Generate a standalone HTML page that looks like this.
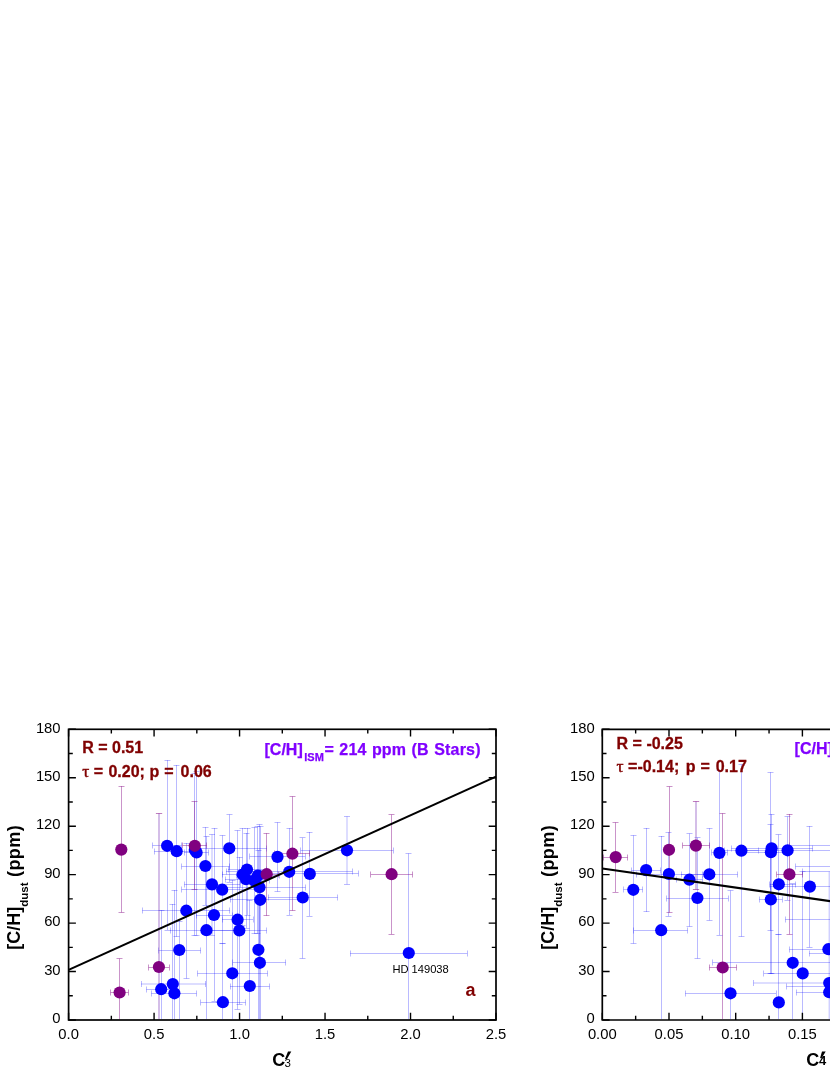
<!DOCTYPE html>
<html><head><meta charset="utf-8"><title>chart</title>
<style>
html,body{margin:0;padding:0;background:#fff;}
body{width:830px;height:1075px;overflow:hidden;font-family:"Liberation Sans",sans-serif;}
svg{display:block;position:absolute;left:0;top:0;opacity:0.999;will-change:transform;}
text{font-family:"Liberation Sans",sans-serif;}
.tk{font-size:14.8px;fill:#000;}
.b{font-weight:bold;}
.dr{fill:#800000;font-weight:bold;font-size:16px;stroke:#800000;stroke-width:0.3px;}
.vi{fill:#8000ff;font-weight:bold;font-size:16px;stroke:#8000ff;stroke-width:0.25px;}
.sy{font-family:"Liberation Serif",serif;font-weight:normal;font-size:17.5px;stroke-width:0.45px;}
</style></head><body>
<svg width="830" height="1075" viewBox="0 0 830 1075">
<rect x="0" y="0" width="830" height="1075" fill="#fff"/>

<g id="plot-a">
<path d="M152.6 845.5H181.6" stroke="#0000ff" stroke-opacity="0.27" stroke-width="1" fill="none"/>
<path d="M152.5 842.5V848.5" stroke="#0000ff" stroke-opacity="0.27" stroke-width="1" fill="none"/>
<path d="M181.5 842.5V848.5" stroke="#0000ff" stroke-opacity="0.27" stroke-width="1" fill="none"/>
<path d="M167.5 760.2V930.0" stroke="#0000ff" stroke-opacity="0.27" stroke-width="1" fill="none"/>
<path d="M164.5 760.5H170.5" stroke="#0000ff" stroke-opacity="0.27" stroke-width="1" fill="none"/>
<path d="M164.5 930.5H170.5" stroke="#0000ff" stroke-opacity="0.27" stroke-width="1" fill="none"/>
<path d="M154.3 851.5H199.0" stroke="#0000ff" stroke-opacity="0.27" stroke-width="1" fill="none"/>
<path d="M154.5 848.5V854.5" stroke="#0000ff" stroke-opacity="0.27" stroke-width="1" fill="none"/>
<path d="M199.5 848.5V854.5" stroke="#0000ff" stroke-opacity="0.27" stroke-width="1" fill="none"/>
<path d="M176.5 765.0V936.8" stroke="#0000ff" stroke-opacity="0.27" stroke-width="1" fill="none"/>
<path d="M173.5 765.5H179.5" stroke="#0000ff" stroke-opacity="0.27" stroke-width="1" fill="none"/>
<path d="M173.5 936.5H179.5" stroke="#0000ff" stroke-opacity="0.27" stroke-width="1" fill="none"/>
<path d="M184.0 852.5H208.5" stroke="#0000ff" stroke-opacity="0.27" stroke-width="1" fill="none"/>
<path d="M184.5 849.5V855.5" stroke="#0000ff" stroke-opacity="0.27" stroke-width="1" fill="none"/>
<path d="M208.5 849.5V855.5" stroke="#0000ff" stroke-opacity="0.27" stroke-width="1" fill="none"/>
<path d="M196.5 771.6V935.1" stroke="#0000ff" stroke-opacity="0.27" stroke-width="1" fill="none"/>
<path d="M193.5 771.5H199.5" stroke="#0000ff" stroke-opacity="0.27" stroke-width="1" fill="none"/>
<path d="M193.5 935.5H199.5" stroke="#0000ff" stroke-opacity="0.27" stroke-width="1" fill="none"/>
<path d="M194.5 773.0V935.1" stroke="#0000ff" stroke-opacity="0.27" stroke-width="1" fill="none"/>
<path d="M191.5 773.5H197.5" stroke="#0000ff" stroke-opacity="0.27" stroke-width="1" fill="none"/>
<path d="M191.5 935.5H197.5" stroke="#0000ff" stroke-opacity="0.27" stroke-width="1" fill="none"/>
<path d="M181.6 866.5H229.5" stroke="#0000ff" stroke-opacity="0.27" stroke-width="1" fill="none"/>
<path d="M181.5 863.5V869.5" stroke="#0000ff" stroke-opacity="0.27" stroke-width="1" fill="none"/>
<path d="M229.5 863.5V869.5" stroke="#0000ff" stroke-opacity="0.27" stroke-width="1" fill="none"/>
<path d="M205.5 827.2V905.0" stroke="#0000ff" stroke-opacity="0.27" stroke-width="1" fill="none"/>
<path d="M202.5 827.5H208.5" stroke="#0000ff" stroke-opacity="0.27" stroke-width="1" fill="none"/>
<path d="M202.5 905.5H208.5" stroke="#0000ff" stroke-opacity="0.27" stroke-width="1" fill="none"/>
<path d="M192.0 848.5H266.7" stroke="#0000ff" stroke-opacity="0.27" stroke-width="1" fill="none"/>
<path d="M192.5 845.5V851.5" stroke="#0000ff" stroke-opacity="0.27" stroke-width="1" fill="none"/>
<path d="M266.5 845.5V851.5" stroke="#0000ff" stroke-opacity="0.27" stroke-width="1" fill="none"/>
<path d="M229.5 814.6V882.0" stroke="#0000ff" stroke-opacity="0.27" stroke-width="1" fill="none"/>
<path d="M226.5 814.5H232.5" stroke="#0000ff" stroke-opacity="0.27" stroke-width="1" fill="none"/>
<path d="M226.5 882.5H232.5" stroke="#0000ff" stroke-opacity="0.27" stroke-width="1" fill="none"/>
<path d="M184.3 884.5H240.0" stroke="#0000ff" stroke-opacity="0.27" stroke-width="1" fill="none"/>
<path d="M184.5 881.5V887.5" stroke="#0000ff" stroke-opacity="0.27" stroke-width="1" fill="none"/>
<path d="M240.5 881.5V887.5" stroke="#0000ff" stroke-opacity="0.27" stroke-width="1" fill="none"/>
<path d="M212.0 834.4V935.0" stroke="#0000ff" stroke-opacity="0.27" stroke-width="1" fill="none"/>
<path d="M209.0 834.5H215.0" stroke="#0000ff" stroke-opacity="0.27" stroke-width="1" fill="none"/>
<path d="M209.0 935.5H215.0" stroke="#0000ff" stroke-opacity="0.27" stroke-width="1" fill="none"/>
<path d="M181.6 889.5H262.0" stroke="#0000ff" stroke-opacity="0.27" stroke-width="1" fill="none"/>
<path d="M181.5 886.5V892.5" stroke="#0000ff" stroke-opacity="0.27" stroke-width="1" fill="none"/>
<path d="M262.5 886.5V892.5" stroke="#0000ff" stroke-opacity="0.27" stroke-width="1" fill="none"/>
<path d="M222.5 835.4V943.2" stroke="#0000ff" stroke-opacity="0.27" stroke-width="1" fill="none"/>
<path d="M219.5 835.5H225.5" stroke="#0000ff" stroke-opacity="0.27" stroke-width="1" fill="none"/>
<path d="M219.5 943.5H225.5" stroke="#0000ff" stroke-opacity="0.27" stroke-width="1" fill="none"/>
<path d="M142.3 910.5H229.8" stroke="#0000ff" stroke-opacity="0.27" stroke-width="1" fill="none"/>
<path d="M142.5 907.5V913.5" stroke="#0000ff" stroke-opacity="0.27" stroke-width="1" fill="none"/>
<path d="M229.5 907.5V913.5" stroke="#0000ff" stroke-opacity="0.27" stroke-width="1" fill="none"/>
<path d="M186.5 843.0V978.5" stroke="#0000ff" stroke-opacity="0.27" stroke-width="1" fill="none"/>
<path d="M183.5 843.5H189.5" stroke="#0000ff" stroke-opacity="0.27" stroke-width="1" fill="none"/>
<path d="M183.5 978.5H189.5" stroke="#0000ff" stroke-opacity="0.27" stroke-width="1" fill="none"/>
<path d="M196.0 915.5H232.0" stroke="#0000ff" stroke-opacity="0.27" stroke-width="1" fill="none"/>
<path d="M196.5 912.5V918.5" stroke="#0000ff" stroke-opacity="0.27" stroke-width="1" fill="none"/>
<path d="M232.5 912.5V918.5" stroke="#0000ff" stroke-opacity="0.27" stroke-width="1" fill="none"/>
<path d="M214.5 828.1V1001.0" stroke="#0000ff" stroke-opacity="0.27" stroke-width="1" fill="none"/>
<path d="M211.5 828.5H217.5" stroke="#0000ff" stroke-opacity="0.27" stroke-width="1" fill="none"/>
<path d="M211.5 1001.5H217.5" stroke="#0000ff" stroke-opacity="0.27" stroke-width="1" fill="none"/>
<path d="M170.0 930.5H242.8" stroke="#0000ff" stroke-opacity="0.27" stroke-width="1" fill="none"/>
<path d="M170.5 927.5V933.5" stroke="#0000ff" stroke-opacity="0.27" stroke-width="1" fill="none"/>
<path d="M242.5 927.5V933.5" stroke="#0000ff" stroke-opacity="0.27" stroke-width="1" fill="none"/>
<path d="M206.5 836.4V1019.0" stroke="#0000ff" stroke-opacity="0.27" stroke-width="1" fill="none"/>
<path d="M203.5 836.5H209.5" stroke="#0000ff" stroke-opacity="0.27" stroke-width="1" fill="none"/>
<path d="M222.0 919.5H253.0" stroke="#0000ff" stroke-opacity="0.27" stroke-width="1" fill="none"/>
<path d="M222.5 916.5V922.5" stroke="#0000ff" stroke-opacity="0.27" stroke-width="1" fill="none"/>
<path d="M253.5 916.5V922.5" stroke="#0000ff" stroke-opacity="0.27" stroke-width="1" fill="none"/>
<path d="M237.5 830.4V1009.3" stroke="#0000ff" stroke-opacity="0.27" stroke-width="1" fill="none"/>
<path d="M234.5 830.5H240.5" stroke="#0000ff" stroke-opacity="0.27" stroke-width="1" fill="none"/>
<path d="M234.5 1009.5H240.5" stroke="#0000ff" stroke-opacity="0.27" stroke-width="1" fill="none"/>
<path d="M212.0 930.5H266.7" stroke="#0000ff" stroke-opacity="0.27" stroke-width="1" fill="none"/>
<path d="M212.0 927.5V933.5" stroke="#0000ff" stroke-opacity="0.27" stroke-width="1" fill="none"/>
<path d="M266.5 927.5V933.5" stroke="#0000ff" stroke-opacity="0.27" stroke-width="1" fill="none"/>
<path d="M239.5 857.0V1004.3" stroke="#0000ff" stroke-opacity="0.27" stroke-width="1" fill="none"/>
<path d="M236.5 857.5H242.5" stroke="#0000ff" stroke-opacity="0.27" stroke-width="1" fill="none"/>
<path d="M236.5 1004.5H242.5" stroke="#0000ff" stroke-opacity="0.27" stroke-width="1" fill="none"/>
<path d="M158.5 950.5H200.7" stroke="#0000ff" stroke-opacity="0.27" stroke-width="1" fill="none"/>
<path d="M158.5 947.5V953.5" stroke="#0000ff" stroke-opacity="0.27" stroke-width="1" fill="none"/>
<path d="M200.5 947.5V953.5" stroke="#0000ff" stroke-opacity="0.27" stroke-width="1" fill="none"/>
<path d="M179.5 921.0V1019.0" stroke="#0000ff" stroke-opacity="0.27" stroke-width="1" fill="none"/>
<path d="M176.5 921.5H182.5" stroke="#0000ff" stroke-opacity="0.27" stroke-width="1" fill="none"/>
<path d="M141.0 984.0H205.9" stroke="#0000ff" stroke-opacity="0.27" stroke-width="1" fill="none"/>
<path d="M141.5 981.0V987.0" stroke="#0000ff" stroke-opacity="0.27" stroke-width="1" fill="none"/>
<path d="M205.5 981.0V987.0" stroke="#0000ff" stroke-opacity="0.27" stroke-width="1" fill="none"/>
<path d="M172.5 904.0V1019.0" stroke="#0000ff" stroke-opacity="0.27" stroke-width="1" fill="none"/>
<path d="M169.5 904.5H175.5" stroke="#0000ff" stroke-opacity="0.27" stroke-width="1" fill="none"/>
<path d="M146.4 989.5H176.0" stroke="#0000ff" stroke-opacity="0.27" stroke-width="1" fill="none"/>
<path d="M146.5 986.5V992.5" stroke="#0000ff" stroke-opacity="0.27" stroke-width="1" fill="none"/>
<path d="M176.5 986.5V992.5" stroke="#0000ff" stroke-opacity="0.27" stroke-width="1" fill="none"/>
<path d="M161.5 910.2V1019.0" stroke="#0000ff" stroke-opacity="0.27" stroke-width="1" fill="none"/>
<path d="M158.5 910.5H164.5" stroke="#0000ff" stroke-opacity="0.27" stroke-width="1" fill="none"/>
<path d="M151.4 993.5H196.5" stroke="#0000ff" stroke-opacity="0.27" stroke-width="1" fill="none"/>
<path d="M151.5 990.5V996.5" stroke="#0000ff" stroke-opacity="0.27" stroke-width="1" fill="none"/>
<path d="M196.5 990.5V996.5" stroke="#0000ff" stroke-opacity="0.27" stroke-width="1" fill="none"/>
<path d="M174.5 890.0V1019.0" stroke="#0000ff" stroke-opacity="0.27" stroke-width="1" fill="none"/>
<path d="M171.5 890.5H177.5" stroke="#0000ff" stroke-opacity="0.27" stroke-width="1" fill="none"/>
<path d="M197.5 973.5H267.5" stroke="#0000ff" stroke-opacity="0.27" stroke-width="1" fill="none"/>
<path d="M197.5 970.5V976.5" stroke="#0000ff" stroke-opacity="0.27" stroke-width="1" fill="none"/>
<path d="M267.5 970.5V976.5" stroke="#0000ff" stroke-opacity="0.27" stroke-width="1" fill="none"/>
<path d="M232.5 880.0V1019.0" stroke="#0000ff" stroke-opacity="0.27" stroke-width="1" fill="none"/>
<path d="M229.5 880.5H235.5" stroke="#0000ff" stroke-opacity="0.27" stroke-width="1" fill="none"/>
<path d="M230.1 986.5H269.5" stroke="#0000ff" stroke-opacity="0.27" stroke-width="1" fill="none"/>
<path d="M230.5 983.5V989.5" stroke="#0000ff" stroke-opacity="0.27" stroke-width="1" fill="none"/>
<path d="M269.5 983.5V989.5" stroke="#0000ff" stroke-opacity="0.27" stroke-width="1" fill="none"/>
<path d="M249.5 900.0V1019.0" stroke="#0000ff" stroke-opacity="0.27" stroke-width="1" fill="none"/>
<path d="M246.5 900.5H252.5" stroke="#0000ff" stroke-opacity="0.27" stroke-width="1" fill="none"/>
<path d="M200.7 1002.5H245.6" stroke="#0000ff" stroke-opacity="0.27" stroke-width="1" fill="none"/>
<path d="M200.5 999.5V1005.5" stroke="#0000ff" stroke-opacity="0.27" stroke-width="1" fill="none"/>
<path d="M245.5 999.5V1005.5" stroke="#0000ff" stroke-opacity="0.27" stroke-width="1" fill="none"/>
<path d="M222.5 943.2V1019.0" stroke="#0000ff" stroke-opacity="0.27" stroke-width="1" fill="none"/>
<path d="M219.5 943.5H225.5" stroke="#0000ff" stroke-opacity="0.27" stroke-width="1" fill="none"/>
<path d="M258.5 850.0V1019.0" stroke="#0000ff" stroke-opacity="0.27" stroke-width="1" fill="none"/>
<path d="M255.5 850.5H261.5" stroke="#0000ff" stroke-opacity="0.27" stroke-width="1" fill="none"/>
<path d="M232.9 962.5H285.7" stroke="#0000ff" stroke-opacity="0.27" stroke-width="1" fill="none"/>
<path d="M232.5 959.5V965.5" stroke="#0000ff" stroke-opacity="0.27" stroke-width="1" fill="none"/>
<path d="M285.5 959.5V965.5" stroke="#0000ff" stroke-opacity="0.27" stroke-width="1" fill="none"/>
<path d="M259.5 870.0V1019.0" stroke="#0000ff" stroke-opacity="0.27" stroke-width="1" fill="none"/>
<path d="M256.5 870.5H262.5" stroke="#0000ff" stroke-opacity="0.27" stroke-width="1" fill="none"/>
<path d="M230.0 899.5H305.0" stroke="#0000ff" stroke-opacity="0.27" stroke-width="1" fill="none"/>
<path d="M230.5 896.5V902.5" stroke="#0000ff" stroke-opacity="0.27" stroke-width="1" fill="none"/>
<path d="M305.5 896.5V902.5" stroke="#0000ff" stroke-opacity="0.27" stroke-width="1" fill="none"/>
<path d="M260.5 826.6V1019.0" stroke="#0000ff" stroke-opacity="0.27" stroke-width="1" fill="none"/>
<path d="M257.5 826.5H263.5" stroke="#0000ff" stroke-opacity="0.27" stroke-width="1" fill="none"/>
<path d="M214.0 887.5H305.6" stroke="#0000ff" stroke-opacity="0.27" stroke-width="1" fill="none"/>
<path d="M214.5 884.5V890.5" stroke="#0000ff" stroke-opacity="0.27" stroke-width="1" fill="none"/>
<path d="M305.5 884.5V890.5" stroke="#0000ff" stroke-opacity="0.27" stroke-width="1" fill="none"/>
<path d="M259.5 824.4V960.0" stroke="#0000ff" stroke-opacity="0.27" stroke-width="1" fill="none"/>
<path d="M256.5 824.5H262.5" stroke="#0000ff" stroke-opacity="0.27" stroke-width="1" fill="none"/>
<path d="M256.5 960.5H262.5" stroke="#0000ff" stroke-opacity="0.27" stroke-width="1" fill="none"/>
<path d="M236.0 875.5H279.0" stroke="#0000ff" stroke-opacity="0.27" stroke-width="1" fill="none"/>
<path d="M236.5 872.5V878.5" stroke="#0000ff" stroke-opacity="0.27" stroke-width="1" fill="none"/>
<path d="M279.5 872.5V878.5" stroke="#0000ff" stroke-opacity="0.27" stroke-width="1" fill="none"/>
<path d="M257.5 826.6V933.8" stroke="#0000ff" stroke-opacity="0.27" stroke-width="1" fill="none"/>
<path d="M254.5 826.5H260.5" stroke="#0000ff" stroke-opacity="0.27" stroke-width="1" fill="none"/>
<path d="M254.5 933.5H260.5" stroke="#0000ff" stroke-opacity="0.27" stroke-width="1" fill="none"/>
<path d="M240.0 880.5H269.0" stroke="#0000ff" stroke-opacity="0.27" stroke-width="1" fill="none"/>
<path d="M240.5 877.5V883.5" stroke="#0000ff" stroke-opacity="0.27" stroke-width="1" fill="none"/>
<path d="M269.5 877.5V883.5" stroke="#0000ff" stroke-opacity="0.27" stroke-width="1" fill="none"/>
<path d="M254.5 827.2V933.8" stroke="#0000ff" stroke-opacity="0.27" stroke-width="1" fill="none"/>
<path d="M251.5 827.5H257.5" stroke="#0000ff" stroke-opacity="0.27" stroke-width="1" fill="none"/>
<path d="M251.5 933.5H257.5" stroke="#0000ff" stroke-opacity="0.27" stroke-width="1" fill="none"/>
<path d="M222.0 874.5H258.0" stroke="#0000ff" stroke-opacity="0.27" stroke-width="1" fill="none"/>
<path d="M222.5 871.5V877.5" stroke="#0000ff" stroke-opacity="0.27" stroke-width="1" fill="none"/>
<path d="M258.5 871.5V877.5" stroke="#0000ff" stroke-opacity="0.27" stroke-width="1" fill="none"/>
<path d="M242.5 828.0V925.0" stroke="#0000ff" stroke-opacity="0.27" stroke-width="1" fill="none"/>
<path d="M239.5 828.5H245.5" stroke="#0000ff" stroke-opacity="0.27" stroke-width="1" fill="none"/>
<path d="M239.5 925.5H245.5" stroke="#0000ff" stroke-opacity="0.27" stroke-width="1" fill="none"/>
<path d="M228.0 869.5H266.0" stroke="#0000ff" stroke-opacity="0.27" stroke-width="1" fill="none"/>
<path d="M228.5 866.5V872.5" stroke="#0000ff" stroke-opacity="0.27" stroke-width="1" fill="none"/>
<path d="M266.5 866.5V872.5" stroke="#0000ff" stroke-opacity="0.27" stroke-width="1" fill="none"/>
<path d="M247.5 828.0V915.0" stroke="#0000ff" stroke-opacity="0.27" stroke-width="1" fill="none"/>
<path d="M244.5 828.5H250.5" stroke="#0000ff" stroke-opacity="0.27" stroke-width="1" fill="none"/>
<path d="M244.5 915.5H250.5" stroke="#0000ff" stroke-opacity="0.27" stroke-width="1" fill="none"/>
<path d="M225.0 879.5H266.0" stroke="#0000ff" stroke-opacity="0.27" stroke-width="1" fill="none"/>
<path d="M225.5 876.5V882.5" stroke="#0000ff" stroke-opacity="0.27" stroke-width="1" fill="none"/>
<path d="M266.5 876.5V882.5" stroke="#0000ff" stroke-opacity="0.27" stroke-width="1" fill="none"/>
<path d="M246.5 833.0V928.0" stroke="#0000ff" stroke-opacity="0.27" stroke-width="1" fill="none"/>
<path d="M243.5 833.5H249.5" stroke="#0000ff" stroke-opacity="0.27" stroke-width="1" fill="none"/>
<path d="M243.5 928.5H249.5" stroke="#0000ff" stroke-opacity="0.27" stroke-width="1" fill="none"/>
<path d="M249.7 856.5H305.2" stroke="#0000ff" stroke-opacity="0.27" stroke-width="1" fill="none"/>
<path d="M249.5 853.5V859.5" stroke="#0000ff" stroke-opacity="0.27" stroke-width="1" fill="none"/>
<path d="M305.5 853.5V859.5" stroke="#0000ff" stroke-opacity="0.27" stroke-width="1" fill="none"/>
<path d="M277.5 822.4V891.6" stroke="#0000ff" stroke-opacity="0.27" stroke-width="1" fill="none"/>
<path d="M274.5 822.5H280.5" stroke="#0000ff" stroke-opacity="0.27" stroke-width="1" fill="none"/>
<path d="M274.5 891.5H280.5" stroke="#0000ff" stroke-opacity="0.27" stroke-width="1" fill="none"/>
<path d="M226.0 871.5H352.5" stroke="#0000ff" stroke-opacity="0.27" stroke-width="1" fill="none"/>
<path d="M226.5 868.5V874.5" stroke="#0000ff" stroke-opacity="0.27" stroke-width="1" fill="none"/>
<path d="M352.5 868.5V874.5" stroke="#0000ff" stroke-opacity="0.27" stroke-width="1" fill="none"/>
<path d="M289.5 828.2V915.0" stroke="#0000ff" stroke-opacity="0.27" stroke-width="1" fill="none"/>
<path d="M286.5 828.5H292.5" stroke="#0000ff" stroke-opacity="0.27" stroke-width="1" fill="none"/>
<path d="M286.5 915.5H292.5" stroke="#0000ff" stroke-opacity="0.27" stroke-width="1" fill="none"/>
<path d="M261.0 873.5H358.4" stroke="#0000ff" stroke-opacity="0.27" stroke-width="1" fill="none"/>
<path d="M261.5 870.5V876.5" stroke="#0000ff" stroke-opacity="0.27" stroke-width="1" fill="none"/>
<path d="M358.5 870.5V876.5" stroke="#0000ff" stroke-opacity="0.27" stroke-width="1" fill="none"/>
<path d="M309.5 832.0V916.0" stroke="#0000ff" stroke-opacity="0.27" stroke-width="1" fill="none"/>
<path d="M306.5 832.5H312.5" stroke="#0000ff" stroke-opacity="0.27" stroke-width="1" fill="none"/>
<path d="M306.5 916.5H312.5" stroke="#0000ff" stroke-opacity="0.27" stroke-width="1" fill="none"/>
<path d="M268.0 897.5H337.6" stroke="#0000ff" stroke-opacity="0.27" stroke-width="1" fill="none"/>
<path d="M268.5 894.5V900.5" stroke="#0000ff" stroke-opacity="0.27" stroke-width="1" fill="none"/>
<path d="M337.5 894.5V900.5" stroke="#0000ff" stroke-opacity="0.27" stroke-width="1" fill="none"/>
<path d="M302.5 837.8V958.4" stroke="#0000ff" stroke-opacity="0.27" stroke-width="1" fill="none"/>
<path d="M299.5 837.5H305.5" stroke="#0000ff" stroke-opacity="0.27" stroke-width="1" fill="none"/>
<path d="M299.5 958.5H305.5" stroke="#0000ff" stroke-opacity="0.27" stroke-width="1" fill="none"/>
<path d="M300.7 850.5H393.3" stroke="#0000ff" stroke-opacity="0.27" stroke-width="1" fill="none"/>
<path d="M300.5 847.5V853.5" stroke="#0000ff" stroke-opacity="0.27" stroke-width="1" fill="none"/>
<path d="M393.5 847.5V853.5" stroke="#0000ff" stroke-opacity="0.27" stroke-width="1" fill="none"/>
<path d="M347.0 816.5V884.3" stroke="#0000ff" stroke-opacity="0.27" stroke-width="1" fill="none"/>
<path d="M344.0 816.5H350.0" stroke="#0000ff" stroke-opacity="0.27" stroke-width="1" fill="none"/>
<path d="M344.0 884.5H350.0" stroke="#0000ff" stroke-opacity="0.27" stroke-width="1" fill="none"/>
<path d="M350.2 953.5H467.2" stroke="#0000ff" stroke-opacity="0.27" stroke-width="1" fill="none"/>
<path d="M350.5 950.5V956.5" stroke="#0000ff" stroke-opacity="0.27" stroke-width="1" fill="none"/>
<path d="M467.5 950.5V956.5" stroke="#0000ff" stroke-opacity="0.27" stroke-width="1" fill="none"/>
<path d="M408.5 853.5V1019.0" stroke="#0000ff" stroke-opacity="0.27" stroke-width="1" fill="none"/>
<path d="M405.5 853.5H411.5" stroke="#0000ff" stroke-opacity="0.27" stroke-width="1" fill="none"/>
<path d="M121.5 786.2V912.4" stroke="#800080" stroke-opacity="0.42" stroke-width="1" fill="none"/>
<path d="M118.5 786.5H124.5" stroke="#800080" stroke-opacity="0.42" stroke-width="1" fill="none"/>
<path d="M118.5 912.5H124.5" stroke="#800080" stroke-opacity="0.42" stroke-width="1" fill="none"/>
<path d="M182.6 845.5H206.6" stroke="#800080" stroke-opacity="0.42" stroke-width="1" fill="none"/>
<path d="M182.5 842.5V848.5" stroke="#800080" stroke-opacity="0.42" stroke-width="1" fill="none"/>
<path d="M206.5 842.5V848.5" stroke="#800080" stroke-opacity="0.42" stroke-width="1" fill="none"/>
<path d="M194.5 801.4V889.5" stroke="#800080" stroke-opacity="0.42" stroke-width="1" fill="none"/>
<path d="M191.5 801.5H197.5" stroke="#800080" stroke-opacity="0.42" stroke-width="1" fill="none"/>
<path d="M191.5 889.5H197.5" stroke="#800080" stroke-opacity="0.42" stroke-width="1" fill="none"/>
<path d="M254.6 874.5H278.6" stroke="#800080" stroke-opacity="0.42" stroke-width="1" fill="none"/>
<path d="M254.5 871.5V877.5" stroke="#800080" stroke-opacity="0.42" stroke-width="1" fill="none"/>
<path d="M278.5 871.5V877.5" stroke="#800080" stroke-opacity="0.42" stroke-width="1" fill="none"/>
<path d="M266.5 833.3V915.7" stroke="#800080" stroke-opacity="0.42" stroke-width="1" fill="none"/>
<path d="M263.5 833.5H269.5" stroke="#800080" stroke-opacity="0.42" stroke-width="1" fill="none"/>
<path d="M263.5 915.5H269.5" stroke="#800080" stroke-opacity="0.42" stroke-width="1" fill="none"/>
<path d="M274.8 853.5H309.8" stroke="#800080" stroke-opacity="0.42" stroke-width="1" fill="none"/>
<path d="M274.5 850.5V856.5" stroke="#800080" stroke-opacity="0.42" stroke-width="1" fill="none"/>
<path d="M309.5 850.5V856.5" stroke="#800080" stroke-opacity="0.42" stroke-width="1" fill="none"/>
<path d="M292.5 796.5V910.6" stroke="#800080" stroke-opacity="0.42" stroke-width="1" fill="none"/>
<path d="M289.5 796.5H295.5" stroke="#800080" stroke-opacity="0.42" stroke-width="1" fill="none"/>
<path d="M289.5 910.5H295.5" stroke="#800080" stroke-opacity="0.42" stroke-width="1" fill="none"/>
<path d="M370.9 874.5H412.4" stroke="#800080" stroke-opacity="0.42" stroke-width="1" fill="none"/>
<path d="M370.5 871.5V877.5" stroke="#800080" stroke-opacity="0.42" stroke-width="1" fill="none"/>
<path d="M412.5 871.5V877.5" stroke="#800080" stroke-opacity="0.42" stroke-width="1" fill="none"/>
<path d="M391.5 814.7V934.2" stroke="#800080" stroke-opacity="0.42" stroke-width="1" fill="none"/>
<path d="M388.5 814.5H394.5" stroke="#800080" stroke-opacity="0.42" stroke-width="1" fill="none"/>
<path d="M388.5 934.5H394.5" stroke="#800080" stroke-opacity="0.42" stroke-width="1" fill="none"/>
<path d="M148.6 967.5H169.1" stroke="#800080" stroke-opacity="0.42" stroke-width="1" fill="none"/>
<path d="M148.5 964.5V970.5" stroke="#800080" stroke-opacity="0.42" stroke-width="1" fill="none"/>
<path d="M169.5 964.5V970.5" stroke="#800080" stroke-opacity="0.42" stroke-width="1" fill="none"/>
<path d="M110.6 992.5H128.3" stroke="#800080" stroke-opacity="0.42" stroke-width="1" fill="none"/>
<path d="M110.5 989.5V995.5" stroke="#800080" stroke-opacity="0.42" stroke-width="1" fill="none"/>
<path d="M128.5 989.5V995.5" stroke="#800080" stroke-opacity="0.42" stroke-width="1" fill="none"/>
<path d="M119.5 958.7V1019.0" stroke="#800080" stroke-opacity="0.42" stroke-width="1" fill="none"/>
<path d="M116.5 958.5H122.5" stroke="#800080" stroke-opacity="0.42" stroke-width="1" fill="none"/>
<path d="M159 813.5V1019" stroke="#8445bd" stroke-opacity="0.35" stroke-width="2" fill="none"/>
<path d="M155.9 813.5H162.2" stroke="#800080" stroke-opacity="0.5" stroke-width="1" fill="none"/>
<circle cx="167.1" cy="845.8" r="6.1" fill="#0000ff"/>
<circle cx="176.7" cy="851.2" r="6.1" fill="#0000ff"/>
<circle cx="196.6" cy="852.5" r="6.1" fill="#0000ff"/>
<circle cx="194.8" cy="850.0" r="6.1" fill="#0000ff"/>
<circle cx="205.4" cy="866.0" r="6.1" fill="#0000ff"/>
<circle cx="229.3" cy="848.3" r="6.1" fill="#0000ff"/>
<circle cx="212.0" cy="884.4" r="6.1" fill="#0000ff"/>
<circle cx="222.2" cy="889.7" r="6.1" fill="#0000ff"/>
<circle cx="186.3" cy="910.7" r="6.1" fill="#0000ff"/>
<circle cx="214.0" cy="915.0" r="6.1" fill="#0000ff"/>
<circle cx="206.4" cy="930.2" r="6.1" fill="#0000ff"/>
<circle cx="237.6" cy="919.7" r="6.1" fill="#0000ff"/>
<circle cx="239.3" cy="930.5" r="6.1" fill="#0000ff"/>
<circle cx="179.3" cy="950.0" r="6.1" fill="#0000ff"/>
<circle cx="172.8" cy="984.0" r="6.1" fill="#0000ff"/>
<circle cx="161.2" cy="989.2" r="6.1" fill="#0000ff"/>
<circle cx="174.4" cy="993.3" r="6.1" fill="#0000ff"/>
<circle cx="232.3" cy="973.3" r="6.1" fill="#0000ff"/>
<circle cx="249.8" cy="986.0" r="6.1" fill="#0000ff"/>
<circle cx="222.9" cy="1002.2" r="6.1" fill="#0000ff"/>
<circle cx="258.4" cy="949.8" r="6.1" fill="#0000ff"/>
<circle cx="259.9" cy="962.8" r="6.1" fill="#0000ff"/>
<circle cx="260.2" cy="899.8" r="6.1" fill="#0000ff"/>
<circle cx="259.5" cy="887.2" r="6.1" fill="#0000ff"/>
<circle cx="257.9" cy="875.6" r="6.1" fill="#0000ff"/>
<circle cx="254.1" cy="880.6" r="6.1" fill="#0000ff"/>
<circle cx="242.7" cy="874.5" r="6.1" fill="#0000ff"/>
<circle cx="247.0" cy="869.5" r="6.1" fill="#0000ff"/>
<circle cx="246.0" cy="879.2" r="6.1" fill="#0000ff"/>
<circle cx="277.5" cy="856.9" r="6.1" fill="#0000ff"/>
<circle cx="289.2" cy="871.8" r="6.1" fill="#0000ff"/>
<circle cx="309.8" cy="873.9" r="6.1" fill="#0000ff"/>
<circle cx="302.7" cy="897.5" r="6.1" fill="#0000ff"/>
<circle cx="347.0" cy="850.3" r="6.1" fill="#0000ff"/>
<circle cx="408.8" cy="953.0" r="6.1" fill="#0000ff"/>
<circle cx="121.3" cy="849.6" r="6.1" fill="#800080"/>
<circle cx="194.8" cy="845.8" r="6.1" fill="#800080"/>
<circle cx="266.7" cy="874.2" r="6.1" fill="#800080"/>
<circle cx="292.4" cy="853.7" r="6.1" fill="#800080"/>
<circle cx="391.6" cy="874.2" r="6.1" fill="#800080"/>
<circle cx="158.9" cy="967.0" r="6.1" fill="#800080"/>
<circle cx="119.6" cy="992.5" r="6.1" fill="#800080"/>
<path d="M68.6 969.9L496.0 776.6" stroke="#000" stroke-width="2.1" fill="none"/>
<path d="M68.6 1020.00h7.3M496.0 1020.00h-7.3M68.6 971.55h7.3M496.0 971.55h-7.3M68.6 923.10h7.3M496.0 923.10h-7.3M68.6 874.65h7.3M496.0 874.65h-7.3M68.6 826.20h7.3M496.0 826.20h-7.3M68.6 777.75h7.3M496.0 777.75h-7.3M68.6 729.30h7.3M496.0 729.30h-7.3M68.6 995.77h4.2M496.0 995.77h-4.2M68.6 947.33h4.2M496.0 947.33h-4.2M68.6 898.88h4.2M496.0 898.88h-4.2M68.6 850.42h4.2M496.0 850.42h-4.2M68.6 801.97h4.2M496.0 801.97h-4.2M68.6 753.52h4.2M496.0 753.52h-4.2M68.60 1020.0v-7.3M68.60 729.3v7.3M154.08 1020.0v-7.3M154.08 729.3v7.3M239.56 1020.0v-7.3M239.56 729.3v7.3M325.04 1020.0v-7.3M325.04 729.3v7.3M410.52 1020.0v-7.3M410.52 729.3v7.3M496.00 1020.0v-7.3M496.00 729.3v7.3M111.34 1020.0v-4.2M111.34 729.3v4.2M196.82 1020.0v-4.2M196.82 729.3v4.2M282.30 1020.0v-4.2M282.30 729.3v4.2M367.78 1020.0v-4.2M367.78 729.3v4.2M453.26 1020.0v-4.2M453.26 729.3v4.2" stroke="#000" stroke-width="1.4" fill="none"/>
<rect x="68.6" y="729.3" width="427.4" height="290.70000000000005" fill="none" stroke="#000" stroke-width="1.7"/>
<text class="tk" x="60.6" y="1023.2" text-anchor="end">0</text>
<text class="tk" x="60.6" y="974.8" text-anchor="end">30</text>
<text class="tk" x="60.6" y="926.3" text-anchor="end">60</text>
<text class="tk" x="60.6" y="877.9" text-anchor="end">90</text>
<text class="tk" x="60.6" y="829.4" text-anchor="end">120</text>
<text class="tk" x="60.6" y="781.0" text-anchor="end">150</text>
<text class="tk" x="60.6" y="732.5" text-anchor="end">180</text>
<text class="tk" x="68.6" y="1039.2" text-anchor="middle">0.0</text>
<text class="tk" x="154.1" y="1039.2" text-anchor="middle">0.5</text>
<text class="tk" x="239.6" y="1039.2" text-anchor="middle">1.0</text>
<text class="tk" x="325.0" y="1039.2" text-anchor="middle">1.5</text>
<text class="tk" x="410.5" y="1039.2" text-anchor="middle">2.0</text>
<text class="tk" x="496.0" y="1039.2" text-anchor="middle">2.5</text>
<text class="dr" x="82.2" y="753.3">R = 0.51</text>
<text class="dr" x="82.2" y="777.0"><tspan class="sy">τ</tspan> = <tspan dx="1">0.20; p </tspan><tspan dx="0.6">= </tspan><tspan dx="2.6">0.06</tspan></text>
<text class="vi" x="264.5" y="755.0">[C/H]<tspan font-size="11" dy="6.3" dx="1.6">ISM</tspan><tspan dy="-6.3" dx="0.6" letter-spacing="0.2" word-spacing="0.65">= 214 ppm (B Stars)</tspan></text>
<text x="392.4" y="972.7" font-size="11.15" fill="#000">HD 149038</text>
<text x="465.4" y="996.2" font-size="18" font-weight="bold" fill="#800000">a</text>
<text transform="translate(20,949.8) rotate(-90)" font-size="18" font-weight="bold" fill="#000">[C/H]<tspan font-size="11.5" dy="8">dust</tspan><tspan dy="-8" letter-spacing="0.45"> (ppm)</tspan></text>
<text x="272.2" y="1066.3" font-size="18" font-weight="bold" fill="#000">C</text>
<text x="284.5" y="1066.5" font-size="11.5" fill="#000">3</text>
<path d="M288.0 1051.4L291.3 1051.4L286.7 1059.5L285.0 1058.9Z" fill="#000"/>
</g>
<g id="plot-b">
<path d="M623.5 889.5H642.6" stroke="#0000ff" stroke-opacity="0.27" stroke-width="1" fill="none"/>
<path d="M623.5 886.5V892.5" stroke="#0000ff" stroke-opacity="0.27" stroke-width="1" fill="none"/>
<path d="M642.5 886.5V892.5" stroke="#0000ff" stroke-opacity="0.27" stroke-width="1" fill="none"/>
<path d="M633.5 835.4V943.5" stroke="#0000ff" stroke-opacity="0.27" stroke-width="1" fill="none"/>
<path d="M630.5 835.5H636.5" stroke="#0000ff" stroke-opacity="0.27" stroke-width="1" fill="none"/>
<path d="M630.5 943.5H636.5" stroke="#0000ff" stroke-opacity="0.27" stroke-width="1" fill="none"/>
<path d="M631.6 870.5H660.8" stroke="#0000ff" stroke-opacity="0.27" stroke-width="1" fill="none"/>
<path d="M631.5 867.5V873.5" stroke="#0000ff" stroke-opacity="0.27" stroke-width="1" fill="none"/>
<path d="M660.5 867.5V873.5" stroke="#0000ff" stroke-opacity="0.27" stroke-width="1" fill="none"/>
<path d="M646.5 828.0V911.9" stroke="#0000ff" stroke-opacity="0.27" stroke-width="1" fill="none"/>
<path d="M643.5 828.5H649.5" stroke="#0000ff" stroke-opacity="0.27" stroke-width="1" fill="none"/>
<path d="M643.5 911.5H649.5" stroke="#0000ff" stroke-opacity="0.27" stroke-width="1" fill="none"/>
<path d="M636.3 874.5H702.5" stroke="#0000ff" stroke-opacity="0.27" stroke-width="1" fill="none"/>
<path d="M636.5 871.5V877.5" stroke="#0000ff" stroke-opacity="0.27" stroke-width="1" fill="none"/>
<path d="M702.5 871.5V877.5" stroke="#0000ff" stroke-opacity="0.27" stroke-width="1" fill="none"/>
<path d="M668.5 832.2V916.2" stroke="#0000ff" stroke-opacity="0.27" stroke-width="1" fill="none"/>
<path d="M665.5 832.5H671.5" stroke="#0000ff" stroke-opacity="0.27" stroke-width="1" fill="none"/>
<path d="M665.5 916.5H671.5" stroke="#0000ff" stroke-opacity="0.27" stroke-width="1" fill="none"/>
<path d="M676.0 879.5H702.5" stroke="#0000ff" stroke-opacity="0.27" stroke-width="1" fill="none"/>
<path d="M676.5 876.5V882.5" stroke="#0000ff" stroke-opacity="0.27" stroke-width="1" fill="none"/>
<path d="M702.5 876.5V882.5" stroke="#0000ff" stroke-opacity="0.27" stroke-width="1" fill="none"/>
<path d="M689.5 833.6V926.5" stroke="#0000ff" stroke-opacity="0.27" stroke-width="1" fill="none"/>
<path d="M686.5 833.5H692.5" stroke="#0000ff" stroke-opacity="0.27" stroke-width="1" fill="none"/>
<path d="M686.5 926.5H692.5" stroke="#0000ff" stroke-opacity="0.27" stroke-width="1" fill="none"/>
<path d="M666.5 898.5H728.2" stroke="#0000ff" stroke-opacity="0.27" stroke-width="1" fill="none"/>
<path d="M666.5 895.5V901.5" stroke="#0000ff" stroke-opacity="0.27" stroke-width="1" fill="none"/>
<path d="M728.5 895.5V901.5" stroke="#0000ff" stroke-opacity="0.27" stroke-width="1" fill="none"/>
<path d="M697.5 837.7V958.5" stroke="#0000ff" stroke-opacity="0.27" stroke-width="1" fill="none"/>
<path d="M694.5 837.5H700.5" stroke="#0000ff" stroke-opacity="0.27" stroke-width="1" fill="none"/>
<path d="M694.5 958.5H700.5" stroke="#0000ff" stroke-opacity="0.27" stroke-width="1" fill="none"/>
<path d="M681.0 874.5H737.6" stroke="#0000ff" stroke-opacity="0.27" stroke-width="1" fill="none"/>
<path d="M681.5 871.5V877.5" stroke="#0000ff" stroke-opacity="0.27" stroke-width="1" fill="none"/>
<path d="M737.5 871.5V877.5" stroke="#0000ff" stroke-opacity="0.27" stroke-width="1" fill="none"/>
<path d="M709.5 828.3V920.3" stroke="#0000ff" stroke-opacity="0.27" stroke-width="1" fill="none"/>
<path d="M706.5 828.5H712.5" stroke="#0000ff" stroke-opacity="0.27" stroke-width="1" fill="none"/>
<path d="M706.5 920.5H712.5" stroke="#0000ff" stroke-opacity="0.27" stroke-width="1" fill="none"/>
<path d="M633.9 930.5H687.6" stroke="#0000ff" stroke-opacity="0.27" stroke-width="1" fill="none"/>
<path d="M633.5 927.5V933.5" stroke="#0000ff" stroke-opacity="0.27" stroke-width="1" fill="none"/>
<path d="M687.5 927.5V933.5" stroke="#0000ff" stroke-opacity="0.27" stroke-width="1" fill="none"/>
<path d="M661.5 836.0V1019.0" stroke="#0000ff" stroke-opacity="0.27" stroke-width="1" fill="none"/>
<path d="M658.5 836.5H664.5" stroke="#0000ff" stroke-opacity="0.27" stroke-width="1" fill="none"/>
<path d="M711.7 852.5H727.4" stroke="#0000ff" stroke-opacity="0.27" stroke-width="1" fill="none"/>
<path d="M711.5 849.5V855.5" stroke="#0000ff" stroke-opacity="0.27" stroke-width="1" fill="none"/>
<path d="M727.5 849.5V855.5" stroke="#0000ff" stroke-opacity="0.27" stroke-width="1" fill="none"/>
<path d="M719.5 770.0V935.1" stroke="#0000ff" stroke-opacity="0.27" stroke-width="1" fill="none"/>
<path d="M716.5 770.5H722.5" stroke="#0000ff" stroke-opacity="0.27" stroke-width="1" fill="none"/>
<path d="M716.5 935.5H722.5" stroke="#0000ff" stroke-opacity="0.27" stroke-width="1" fill="none"/>
<path d="M724.4 850.5H758.4" stroke="#0000ff" stroke-opacity="0.27" stroke-width="1" fill="none"/>
<path d="M724.5 847.5V853.5" stroke="#0000ff" stroke-opacity="0.27" stroke-width="1" fill="none"/>
<path d="M758.5 847.5V853.5" stroke="#0000ff" stroke-opacity="0.27" stroke-width="1" fill="none"/>
<path d="M741.5 764.8V936.6" stroke="#0000ff" stroke-opacity="0.27" stroke-width="1" fill="none"/>
<path d="M738.5 764.5H744.5" stroke="#0000ff" stroke-opacity="0.27" stroke-width="1" fill="none"/>
<path d="M738.5 936.5H744.5" stroke="#0000ff" stroke-opacity="0.27" stroke-width="1" fill="none"/>
<path d="M731.3 848.5H812.7" stroke="#0000ff" stroke-opacity="0.27" stroke-width="1" fill="none"/>
<path d="M731.5 845.5V851.5" stroke="#0000ff" stroke-opacity="0.27" stroke-width="1" fill="none"/>
<path d="M812.5 845.5V851.5" stroke="#0000ff" stroke-opacity="0.27" stroke-width="1" fill="none"/>
<path d="M771.5 814.1V973.9" stroke="#0000ff" stroke-opacity="0.27" stroke-width="1" fill="none"/>
<path d="M768.5 814.5H774.5" stroke="#0000ff" stroke-opacity="0.27" stroke-width="1" fill="none"/>
<path d="M768.5 973.5H774.5" stroke="#0000ff" stroke-opacity="0.27" stroke-width="1" fill="none"/>
<path d="M741.4 852.5H790.0" stroke="#0000ff" stroke-opacity="0.27" stroke-width="1" fill="none"/>
<path d="M741.5 849.5V855.5" stroke="#0000ff" stroke-opacity="0.27" stroke-width="1" fill="none"/>
<path d="M790.5 849.5V855.5" stroke="#0000ff" stroke-opacity="0.27" stroke-width="1" fill="none"/>
<path d="M770.5 772.3V973.9" stroke="#0000ff" stroke-opacity="0.27" stroke-width="1" fill="none"/>
<path d="M767.5 772.5H773.5" stroke="#0000ff" stroke-opacity="0.27" stroke-width="1" fill="none"/>
<path d="M767.5 973.5H773.5" stroke="#0000ff" stroke-opacity="0.27" stroke-width="1" fill="none"/>
<path d="M745.0 850.5H860.0" stroke="#0000ff" stroke-opacity="0.27" stroke-width="1" fill="none"/>
<path d="M745.5 847.5V853.5" stroke="#0000ff" stroke-opacity="0.27" stroke-width="1" fill="none"/>
<path d="M787.5 816.5V900.0" stroke="#0000ff" stroke-opacity="0.27" stroke-width="1" fill="none"/>
<path d="M784.5 816.5H790.5" stroke="#0000ff" stroke-opacity="0.27" stroke-width="1" fill="none"/>
<path d="M784.5 900.5H790.5" stroke="#0000ff" stroke-opacity="0.27" stroke-width="1" fill="none"/>
<path d="M769.8 884.5H795.8" stroke="#0000ff" stroke-opacity="0.27" stroke-width="1" fill="none"/>
<path d="M769.5 881.5V887.5" stroke="#0000ff" stroke-opacity="0.27" stroke-width="1" fill="none"/>
<path d="M795.5 881.5V887.5" stroke="#0000ff" stroke-opacity="0.27" stroke-width="1" fill="none"/>
<path d="M778.5 834.6V934.3" stroke="#0000ff" stroke-opacity="0.27" stroke-width="1" fill="none"/>
<path d="M775.5 834.5H781.5" stroke="#0000ff" stroke-opacity="0.27" stroke-width="1" fill="none"/>
<path d="M775.5 934.5H781.5" stroke="#0000ff" stroke-opacity="0.27" stroke-width="1" fill="none"/>
<path d="M770.0 886.5H850.0" stroke="#0000ff" stroke-opacity="0.27" stroke-width="1" fill="none"/>
<path d="M770.5 883.5V889.5" stroke="#0000ff" stroke-opacity="0.27" stroke-width="1" fill="none"/>
<path d="M809.5 826.2V947.3" stroke="#0000ff" stroke-opacity="0.27" stroke-width="1" fill="none"/>
<path d="M806.5 826.5H812.5" stroke="#0000ff" stroke-opacity="0.27" stroke-width="1" fill="none"/>
<path d="M806.5 947.5H812.5" stroke="#0000ff" stroke-opacity="0.27" stroke-width="1" fill="none"/>
<path d="M759.3 899.5H782.3" stroke="#0000ff" stroke-opacity="0.27" stroke-width="1" fill="none"/>
<path d="M759.5 896.5V902.5" stroke="#0000ff" stroke-opacity="0.27" stroke-width="1" fill="none"/>
<path d="M782.5 896.5V902.5" stroke="#0000ff" stroke-opacity="0.27" stroke-width="1" fill="none"/>
<path d="M770.5 824.3V930.5" stroke="#0000ff" stroke-opacity="0.27" stroke-width="1" fill="none"/>
<path d="M767.5 824.5H773.5" stroke="#0000ff" stroke-opacity="0.27" stroke-width="1" fill="none"/>
<path d="M767.5 930.5H773.5" stroke="#0000ff" stroke-opacity="0.27" stroke-width="1" fill="none"/>
<path d="M685.3 993.5H776.0" stroke="#0000ff" stroke-opacity="0.27" stroke-width="1" fill="none"/>
<path d="M685.5 990.5V996.5" stroke="#0000ff" stroke-opacity="0.27" stroke-width="1" fill="none"/>
<path d="M776.5 990.5V996.5" stroke="#0000ff" stroke-opacity="0.27" stroke-width="1" fill="none"/>
<path d="M730.5 890.5V1019.0" stroke="#0000ff" stroke-opacity="0.27" stroke-width="1" fill="none"/>
<path d="M727.5 890.5H733.5" stroke="#0000ff" stroke-opacity="0.27" stroke-width="1" fill="none"/>
<path d="M776.0 1002.5H782.0" stroke="#0000ff" stroke-opacity="0.27" stroke-width="1" fill="none"/>
<path d="M776.5 999.5V1005.5" stroke="#0000ff" stroke-opacity="0.27" stroke-width="1" fill="none"/>
<path d="M782.5 999.5V1005.5" stroke="#0000ff" stroke-opacity="0.27" stroke-width="1" fill="none"/>
<path d="M778.5 934.3V1019.0" stroke="#0000ff" stroke-opacity="0.27" stroke-width="1" fill="none"/>
<path d="M775.5 934.5H781.5" stroke="#0000ff" stroke-opacity="0.27" stroke-width="1" fill="none"/>
<path d="M712.7 962.5H850.0" stroke="#0000ff" stroke-opacity="0.27" stroke-width="1" fill="none"/>
<path d="M712.5 959.5V965.5" stroke="#0000ff" stroke-opacity="0.27" stroke-width="1" fill="none"/>
<path d="M792.5 883.9V1019.0" stroke="#0000ff" stroke-opacity="0.27" stroke-width="1" fill="none"/>
<path d="M789.5 883.5H795.5" stroke="#0000ff" stroke-opacity="0.27" stroke-width="1" fill="none"/>
<path d="M763.9 973.5H850.0" stroke="#0000ff" stroke-opacity="0.27" stroke-width="1" fill="none"/>
<path d="M763.5 970.5V976.5" stroke="#0000ff" stroke-opacity="0.27" stroke-width="1" fill="none"/>
<path d="M802.5 871.5V1019.0" stroke="#0000ff" stroke-opacity="0.27" stroke-width="1" fill="none"/>
<path d="M799.5 871.5H805.5" stroke="#0000ff" stroke-opacity="0.27" stroke-width="1" fill="none"/>
<path d="M789.3 949.5H860.0" stroke="#0000ff" stroke-opacity="0.27" stroke-width="1" fill="none"/>
<path d="M789.5 946.5V952.5" stroke="#0000ff" stroke-opacity="0.27" stroke-width="1" fill="none"/>
<path d="M753.6 983.0H860.0" stroke="#0000ff" stroke-opacity="0.27" stroke-width="1" fill="none"/>
<path d="M753.5 980.0V986.0" stroke="#0000ff" stroke-opacity="0.27" stroke-width="1" fill="none"/>
<path d="M796.3 992.5H860.0" stroke="#0000ff" stroke-opacity="0.27" stroke-width="1" fill="none"/>
<path d="M796.5 989.5V995.5" stroke="#0000ff" stroke-opacity="0.27" stroke-width="1" fill="none"/>
<path d="M786.5 986.5H880.0" stroke="#0000ff" stroke-opacity="0.27" stroke-width="1" fill="none"/>
<path d="M786.5 983.5V989.5" stroke="#0000ff" stroke-opacity="0.27" stroke-width="1" fill="none"/>
<path d="M795.5 866.5H880.0" stroke="#0000ff" stroke-opacity="0.27" stroke-width="1" fill="none"/>
<path d="M795.5 863.5V869.5" stroke="#0000ff" stroke-opacity="0.27" stroke-width="1" fill="none"/>
<path d="M789.9 845.5H880.0" stroke="#0000ff" stroke-opacity="0.27" stroke-width="1" fill="none"/>
<path d="M789.5 842.5V848.5" stroke="#0000ff" stroke-opacity="0.27" stroke-width="1" fill="none"/>
<path d="M802.7 871.5H880.0" stroke="#0000ff" stroke-opacity="0.27" stroke-width="1" fill="none"/>
<path d="M802.5 868.5V874.5" stroke="#0000ff" stroke-opacity="0.27" stroke-width="1" fill="none"/>
<path d="M785.4 919.5H880.0" stroke="#0000ff" stroke-opacity="0.27" stroke-width="1" fill="none"/>
<path d="M785.5 916.5V922.5" stroke="#0000ff" stroke-opacity="0.27" stroke-width="1" fill="none"/>
<path d="M809.2 953.5H880.0" stroke="#0000ff" stroke-opacity="0.27" stroke-width="1" fill="none"/>
<path d="M809.5 950.5V956.5" stroke="#0000ff" stroke-opacity="0.27" stroke-width="1" fill="none"/>
<path d="M603.4 857.5H627.6" stroke="#800080" stroke-opacity="0.42" stroke-width="1" fill="none"/>
<path d="M603.5 854.5V860.5" stroke="#800080" stroke-opacity="0.42" stroke-width="1" fill="none"/>
<path d="M627.5 854.5V860.5" stroke="#800080" stroke-opacity="0.42" stroke-width="1" fill="none"/>
<path d="M615.5 822.5V892.0" stroke="#800080" stroke-opacity="0.42" stroke-width="1" fill="none"/>
<path d="M612.5 822.5H618.5" stroke="#800080" stroke-opacity="0.42" stroke-width="1" fill="none"/>
<path d="M612.5 892.5H618.5" stroke="#800080" stroke-opacity="0.42" stroke-width="1" fill="none"/>
<path d="M669.5 786.6V912.6" stroke="#800080" stroke-opacity="0.42" stroke-width="1" fill="none"/>
<path d="M666.5 786.5H672.5" stroke="#800080" stroke-opacity="0.42" stroke-width="1" fill="none"/>
<path d="M666.5 912.5H672.5" stroke="#800080" stroke-opacity="0.42" stroke-width="1" fill="none"/>
<path d="M682.7 845.5H709.5" stroke="#800080" stroke-opacity="0.42" stroke-width="1" fill="none"/>
<path d="M682.5 842.5V848.5" stroke="#800080" stroke-opacity="0.42" stroke-width="1" fill="none"/>
<path d="M709.5 842.5V848.5" stroke="#800080" stroke-opacity="0.42" stroke-width="1" fill="none"/>
<path d="M776.7 874.5H802.6" stroke="#800080" stroke-opacity="0.42" stroke-width="1" fill="none"/>
<path d="M776.5 871.5V877.5" stroke="#800080" stroke-opacity="0.42" stroke-width="1" fill="none"/>
<path d="M802.5 871.5V877.5" stroke="#800080" stroke-opacity="0.42" stroke-width="1" fill="none"/>
<path d="M789.5 814.1V934.3" stroke="#800080" stroke-opacity="0.42" stroke-width="1" fill="none"/>
<path d="M786.5 814.5H792.5" stroke="#800080" stroke-opacity="0.42" stroke-width="1" fill="none"/>
<path d="M786.5 934.5H792.5" stroke="#800080" stroke-opacity="0.42" stroke-width="1" fill="none"/>
<path d="M709.4 967.5H736.5" stroke="#800080" stroke-opacity="0.42" stroke-width="1" fill="none"/>
<path d="M709.5 964.5V970.5" stroke="#800080" stroke-opacity="0.42" stroke-width="1" fill="none"/>
<path d="M736.5 964.5V970.5" stroke="#800080" stroke-opacity="0.42" stroke-width="1" fill="none"/>
<path d="M722.5 813.4V1019.0" stroke="#800080" stroke-opacity="0.42" stroke-width="1" fill="none"/>
<path d="M719.5 813.5H725.5" stroke="#800080" stroke-opacity="0.42" stroke-width="1" fill="none"/>
<path d="M829.2 871.7V1019" stroke="#0000ff" stroke-opacity="0.27" stroke-width="1" fill="none"/>
<path d="M696 801.5V889.5" stroke="#8445bd" stroke-opacity="0.35" stroke-width="2" fill="none"/>
<path d="M692.9 801.5H699.2M692.9 889.5H699.2" stroke="#800080" stroke-opacity="0.5" stroke-width="1" fill="none"/>
<circle cx="633.3" cy="889.8" r="6.1" fill="#0000ff"/>
<circle cx="646.1" cy="870.1" r="6.1" fill="#0000ff"/>
<circle cx="668.9" cy="874.0" r="6.1" fill="#0000ff"/>
<circle cx="689.4" cy="879.7" r="6.1" fill="#0000ff"/>
<circle cx="697.4" cy="898.0" r="6.1" fill="#0000ff"/>
<circle cx="709.3" cy="874.3" r="6.1" fill="#0000ff"/>
<circle cx="661.2" cy="930.2" r="6.1" fill="#0000ff"/>
<circle cx="719.4" cy="852.9" r="6.1" fill="#0000ff"/>
<circle cx="741.4" cy="850.7" r="6.1" fill="#0000ff"/>
<circle cx="771.6" cy="848.3" r="6.1" fill="#0000ff"/>
<circle cx="770.9" cy="852.2" r="6.1" fill="#0000ff"/>
<circle cx="787.6" cy="850.3" r="6.1" fill="#0000ff"/>
<circle cx="778.8" cy="884.3" r="6.1" fill="#0000ff"/>
<circle cx="809.9" cy="886.6" r="6.1" fill="#0000ff"/>
<circle cx="770.8" cy="899.5" r="6.1" fill="#0000ff"/>
<circle cx="730.5" cy="993.3" r="6.1" fill="#0000ff"/>
<circle cx="778.8" cy="1002.4" r="6.1" fill="#0000ff"/>
<circle cx="792.7" cy="962.8" r="6.1" fill="#0000ff"/>
<circle cx="802.7" cy="973.4" r="6.1" fill="#0000ff"/>
<circle cx="828.4" cy="949.2" r="6.1" fill="#0000ff"/>
<circle cx="829.2" cy="983.0" r="6.1" fill="#0000ff"/>
<circle cx="829.2" cy="992.2" r="6.1" fill="#0000ff"/>
<circle cx="615.7" cy="857.1" r="6.1" fill="#800080"/>
<circle cx="669.0" cy="849.8" r="6.1" fill="#800080"/>
<circle cx="695.9" cy="845.6" r="6.1" fill="#800080"/>
<circle cx="789.4" cy="874.3" r="6.1" fill="#800080"/>
<circle cx="722.7" cy="967.5" r="6.1" fill="#800080"/>
<path d="M602.3 868.5L840 902.5" stroke="#000" stroke-width="2.1" fill="none"/>
<path d="M602.3 1020.00h7.3M602.3 971.55h7.3M602.3 923.10h7.3M602.3 874.65h7.3M602.3 826.20h7.3M602.3 777.75h7.3M602.3 729.30h7.3M602.3 995.77h4.2M602.3 947.33h4.2M602.3 898.88h4.2M602.3 850.42h4.2M602.3 801.97h4.2M602.3 753.52h4.2M602.30 1020.0v-7.3M602.30 729.3v7.3M669.00 1020.0v-7.3M669.00 729.3v7.3M735.70 1020.0v-7.3M735.70 729.3v7.3M802.40 1020.0v-7.3M802.40 729.3v7.3M635.65 1020.0v-4.2M635.65 729.3v4.2M702.35 1020.0v-4.2M702.35 729.3v4.2M769.05 1020.0v-4.2M769.05 729.3v4.2M835.75 1020.0v-4.2M835.75 729.3v4.2" stroke="#000" stroke-width="1.4" fill="none"/>
<path d="M840 729.3H602.3V1020.0H840" fill="none" stroke="#000" stroke-width="1.7"/>
<text class="tk" x="594.8" y="1023.2" text-anchor="end">0</text>
<text class="tk" x="594.8" y="974.8" text-anchor="end">30</text>
<text class="tk" x="594.8" y="926.3" text-anchor="end">60</text>
<text class="tk" x="594.8" y="877.9" text-anchor="end">90</text>
<text class="tk" x="594.8" y="829.4" text-anchor="end">120</text>
<text class="tk" x="594.8" y="781.0" text-anchor="end">150</text>
<text class="tk" x="594.8" y="732.5" text-anchor="end">180</text>
<text class="tk" x="602.3" y="1039.2" text-anchor="middle">0.00</text>
<text class="tk" x="669.0" y="1039.2" text-anchor="middle">0.05</text>
<text class="tk" x="735.7" y="1039.2" text-anchor="middle">0.10</text>
<text class="tk" x="802.4" y="1039.2" text-anchor="middle">0.15</text>
<text class="dr" x="616.6" y="749.2">R = -0.25</text>
<text class="dr" x="616.6" y="772.2"><tspan class="sy">τ</tspan> =-0.14; <tspan dx="2">p </tspan><tspan dx="0.6">= </tspan><tspan dx="1.4">0.17</tspan></text>
<text class="vi" x="794.6" y="753.8">[C/H]<tspan font-size="11" dy="6.3" dx="1.6">ISM</tspan><tspan dy="-6.3" dx="0.6" letter-spacing="0.2" word-spacing="0.65">= 214 ppm (B Stars)</tspan></text>
<text transform="translate(554,949.8) rotate(-90)" font-size="18" font-weight="bold" fill="#000">[C/H]<tspan font-size="11.5" dy="8">dust</tspan><tspan dy="-8" letter-spacing="0.45"> (ppm)</tspan></text>
<text x="806.2" y="1066.3" font-size="18" font-weight="bold" fill="#000">C</text>
<text x="819.0" y="1065.2" font-size="13" font-weight="bold" fill="#000">4</text>
<path d="M822.0 1051.4L825.7 1051.4L821.4 1058.5L820.1 1058.0Z" fill="#000"/>
</g>
</svg></body></html>
